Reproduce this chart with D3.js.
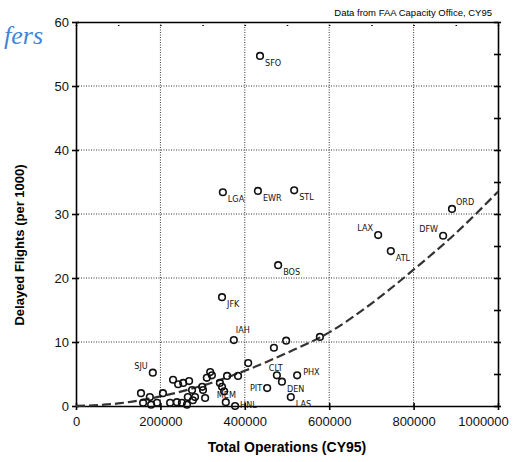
<!DOCTYPE html>
<html>
<head>
<meta charset="utf-8">
<script src="https://cdn.jsdelivr.net/npm/d3@7"></script>
<style>
  body { margin: 0; background: #fff; }
  svg { display: block; font-family: "Liberation Sans", Arial, sans-serif; }
  .grid line { stroke: #333; stroke-width: 1; stroke-dasharray: 1,1.5; }
  .axis path, .axis line { stroke: #000; stroke-width: 1.6; }
  .axis text { font-size: 13px; fill: #111; }
  .pt { fill: none; stroke: #111; stroke-width: 1.6; }
  .pt-label { font-size: 9px; fill: #111; font-family: "DejaVu Sans Condensed", "Liberation Sans Narrow", sans-serif; }
</style>
</head>
<body>
<svg id="chart" width="520" height="462"></svg>
<script>
// airports with labels
const airports = ["SFO", "LGA", "EWR", "STL", "BOS", "JFK", "IAH", "LAX", "ATL", "DFW", "ORD",
    "SJU", "CLT", "PHX", "DEN", "PIT", "LAS", "MEM", "HNL"];
const airportOps = [436000, 348000, 431000, 517000, 479000, 346000, 374000, 716000, 746000, 870000, 891000,
    182000, 476000, 524000, 488000, 453000, 509000, 355000, 377000];
const airportDelays = [54.7, 33.4, 33.6, 33.7, 22.0, 17.0, 10.3, 26.7, 24.2, 26.6, 30.8,
    5.2, 4.8, 4.8, 3.8, 2.8, 1.4, 0.6, 0.0];
// label offset side for each airport
const labelSide = ["br", "br", "br", "br", "br", "br", "ta", "tl", "br", "tl", "tr",
    "tl", "tc", "r", "br", "l", "br", "tl2", "br2"];

// unlabeled airports
const otherOps = [230000, 242000, 254000, 268000, 154000, 175000, 206000, 275000, 265000,
    159000, 178000, 192000, 223000, 239000, 251000, 263000,
    318000, 322000, 310000, 299000, 301000, 282000, 277000, 306000,
    341000, 346000, 351000, 358000, 384000, 408000, 469000, 498000, 578000];
const otherDelays = [4.1, 3.4, 3.6, 3.9, 2.0, 1.4, 2.0, 2.5, 1.4,
    0.5, 0.2, 0.5, 0.5, 0.6, 0.5, 0.2,
    5.3, 4.8, 4.4, 3.0, 2.5, 1.4, 0.9, 1.25,
    3.6, 3.0, 2.3, 4.7, 4.7, 6.7, 9.1, 10.2, 10.8];

// dashed trend curve
const trendOps = [0, 100000, 200000, 300000, 400000, 500000, 600000, 700000, 800000, 900000, 1000000];
const trendDelays = [0, 0.4, 1.5, 3.2, 5.5, 8.3, 11.5, 16.0, 21.3, 27.0, 33.5];

const xTicks = [0, 200000, 400000, 600000, 800000, 1000000];
const yTicks = [0, 10, 20, 30, 40, 50, 60];

const svg = d3.select("#chart");
const plotLeft = 76, plotRight = 498, plotTop = 22, plotBottom = 406;

const x = d3.scaleLinear().domain([0, 1000000]).range([plotLeft, plotRight]);
const y = d3.scaleLinear().domain([0, 60]).range([plotBottom, plotTop]);

// gridlines
const grid = svg.append("g").attr("class", "grid");
grid.selectAll(".gx").data(xTicks.slice(1, -1)).enter().append("line")
    .attr("x1", d => x(d)).attr("x2", d => x(d))
    .attr("y1", plotTop).attr("y2", plotBottom);
grid.selectAll(".gy").data(yTicks.slice(1, -1)).enter().append("line")
    .attr("x1", plotLeft).attr("x2", plotRight)
    .attr("y1", d => y(d)).attr("y2", d => y(d));

// frame top/right with inward minor ticks
const topAxis = svg.append("g").attr("class", "axis")
    .attr("transform", `translate(0,${plotTop})`)
    .call(d3.axisTop(x).tickValues(d3.range(0, 1000001, 100000)).tickSize(-4).tickSizeOuter(0).tickFormat(""));
topAxis.selectAll(".tick line").attr("y1", 3);
const rightAxis = svg.append("g").attr("class", "axis")
    .attr("transform", `translate(${plotRight},0)`)
    .call(d3.axisRight(y).tickValues(d3.range(0, 61, 5)).tickSize(-4).tickSizeOuter(0).tickFormat(""));
rightAxis.selectAll(".tick line").attr("x1", 3);

// bottom axis
const xAxis = svg.append("g").attr("class", "axis")
    .attr("transform", `translate(0,${plotBottom})`)
    .call(d3.axisBottom(x).tickValues(xTicks).tickSize(4).tickSizeOuter(0).tickPadding(7).tickFormat(d3.format("d")));
xAxis.selectAll(".tick line").attr("y1", -3);
// last label pulled in so it fits the page
xAxis.selectAll(".tick text").filter(d => d === 1000000).attr("dx", -15);

// left axis
const yAxis = svg.append("g").attr("class", "axis")
    .attr("transform", `translate(${plotLeft},0)`)
    .call(d3.axisLeft(y).tickValues(yTicks).tickSize(4).tickSizeOuter(0).tickPadding(3));
yAxis.selectAll(".tick line").attr("x1", 3);

// trend curve
const line = d3.line().x(d => x(d[0])).y(d => y(d[1])).curve(d3.curveMonotoneX);
svg.append("path")
    .datum(trendOps.map((d, i) => [d, trendDelays[i]]))
    .attr("d", line)
    .attr("fill", "none")
    .attr("stroke", "#333")
    .attr("stroke-width", 2.2)
    .attr("stroke-dasharray", "9,4");

// points
svg.selectAll(".other").data(otherOps).enter().append("circle")
    .attr("class", "pt")
    .attr("cx", d => x(d))
    .attr("cy", (d, i) => y(otherDelays[i]))
    .attr("r", 3.3);

svg.selectAll(".apt").data(airports).enter().append("circle")
    .attr("class", "pt")
    .attr("cx", (d, i) => x(airportOps[i]))
    .attr("cy", (d, i) => y(airportDelays[i]))
    .attr("r", 3.3);

const offsets = {
    br: [5, 10, "start"], tr: [4, -4, "start"], tl: [-5, -4, "end"], r: [6, 0, "start"],
    l: [-5, 3, "end"], ta: [2, -7, "start"], tc: [-8, -4, "start"],
    tl2: [-9, -4, "start"], br2: [5, 2, "start"]
};
svg.selectAll(".pt-label").data(airports).enter().append("text")
    .attr("class", "pt-label")
    .attr("x", (d, i) => x(airportOps[i]) + offsets[labelSide[i]][0])
    .attr("y", (d, i) => y(airportDelays[i]) + offsets[labelSide[i]][1])
    .attr("text-anchor", (d, i) => offsets[labelSide[i]][2])
    .text(d => d);

// titles
svg.append("text")
    .attr("x", 287).attr("y", 452)
    .attr("text-anchor", "middle")
    .style("font-size", "14px").style("font-weight", "bold")
    .text("Total Operations (CY95)");

svg.append("text")
    .attr("transform", "translate(24,245) rotate(-90)")
    .attr("text-anchor", "middle")
    .style("font-size", "13px").style("font-weight", "bold")
    .text("Delayed Flights (per 1000)");

svg.append("text")
    .attr("x", 492).attr("y", 16)
    .attr("text-anchor", "end")
    .style("font-size", "9.5px")
    .text("Data from FAA Capacity Office, CY95");

// handwritten note in the margin
svg.append("text")
    .attr("x", 4).attr("y", 44)
    .style("font-family", "Liberation Serif, serif")
    .style("font-style", "italic")
    .style("font-size", "26px")
    .style("fill", "#3f86d8")
    .text("fers");
</script>
</body>
</html>
